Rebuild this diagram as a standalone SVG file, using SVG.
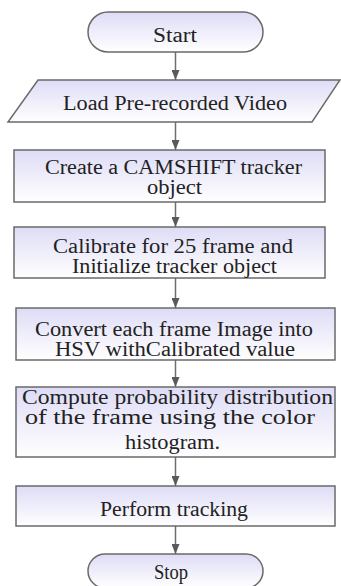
<svg xmlns="http://www.w3.org/2000/svg" width="341" height="586" viewBox="0 0 341 586">
  <defs>
    <linearGradient id="fillGrad" x1="0" y1="0" x2="0" y2="1">
      <stop offset="0" stop-color="#dedcf6"/>
      <stop offset="1" stop-color="#ffffff"/>
    </linearGradient>
    <marker id="arrow" viewBox="0 0 10 8" refX="10" refY="4" markerWidth="10" markerHeight="8" markerUnits="userSpaceOnUse" orient="auto">
      <path d="M0,0 L10,4 L0,8 Z" fill="#5a5a5a"/>
    </marker>
  </defs>
  <style>
    .shape { fill: url(#fillGrad); stroke: #6a6a6a; stroke-width: 1.5; }
    .label { font-family: "Liberation Serif", "Times New Roman", serif; font-size: 20px; fill: #222; }
    .conn { stroke: #6e6e6e; stroke-width: 1.5; fill: none; marker-end: url(#arrow); }
  </style>
  <rect width="341" height="586" fill="#ffffff"/>

  <g id="connectors">
    <line class="conn" x1="175.5" y1="52" x2="175.5" y2="80"/>
    <line class="conn" x1="175.5" y1="122" x2="175.5" y2="150"/>
    <line class="conn" x1="175.5" y1="202" x2="175.5" y2="227"/>
    <line class="conn" x1="175.5" y1="278" x2="175.5" y2="308"/>
    <line class="conn" x1="175.5" y1="360" x2="175.5" y2="387"/>
    <line class="conn" x1="175.5" y1="457" x2="175.5" y2="486"/>
    <line class="conn" x1="175.5" y1="526" x2="175.5" y2="554"/>
  </g>

  <g id="start">
    <rect class="shape" x="88" y="12" width="175" height="40" rx="20" ry="20"/>
    <text class="label" x="175" y="41.5" text-anchor="middle" textLength="44" lengthAdjust="spacingAndGlyphs">Start</text>
  </g>

  <g id="load-video">
    <polygon class="shape" points="38,80 340,80 312,122 8,122"/>
    <text class="label" x="175" y="110" text-anchor="middle" textLength="224" lengthAdjust="spacingAndGlyphs">Load Pre-recorded Video</text>
  </g>

  <g id="create-tracker">
    <rect class="shape" x="14" y="150" width="311" height="52"/>
    <text class="label" x="173.5" y="174" text-anchor="middle" textLength="257" lengthAdjust="spacingAndGlyphs">Create a CAMSHIFT tracker</text>
    <text class="label" x="174.5" y="194" text-anchor="middle" textLength="55" lengthAdjust="spacingAndGlyphs">object</text>
  </g>

  <g id="calibrate">
    <rect class="shape" x="14" y="227" width="311" height="51"/>
    <text class="label" x="173" y="252.5" text-anchor="middle" textLength="240" lengthAdjust="spacingAndGlyphs">Calibrate for 25 frame and</text>
    <text class="label" x="174.5" y="272.5" text-anchor="middle" textLength="205" lengthAdjust="spacingAndGlyphs">Initialize tracker object</text>
  </g>

  <g id="convert-hsv">
    <rect class="shape" x="16" y="308" width="319" height="52"/>
    <text class="label" x="174" y="336" text-anchor="middle" textLength="278" lengthAdjust="spacingAndGlyphs">Convert each frame Image into</text>
    <text class="label" x="175" y="356" text-anchor="middle" textLength="240" lengthAdjust="spacingAndGlyphs">HSV withCalibrated value</text>
  </g>

  <g id="compute-distribution">
    <rect class="shape" x="16" y="387" width="319" height="70"/>
    <text class="label" x="177.5" y="404" text-anchor="middle" textLength="311" lengthAdjust="spacingAndGlyphs">Compute probability distribution</text>
    <text class="label" x="170" y="424" text-anchor="middle" textLength="290" lengthAdjust="spacingAndGlyphs">of the frame using the color</text>
    <text class="label" x="172.5" y="449" text-anchor="middle" textLength="95" lengthAdjust="spacingAndGlyphs">histogram.</text>
  </g>

  <g id="perform-tracking">
    <rect class="shape" x="16" y="486" width="319" height="40"/>
    <text class="label" x="174" y="516" text-anchor="middle" textLength="148" lengthAdjust="spacingAndGlyphs">Perform tracking</text>
  </g>

  <g id="stop">
    <rect class="shape" x="88" y="554" width="175" height="34" rx="17" ry="17"/>
    <text class="label" x="171" y="579" text-anchor="middle" textLength="34" lengthAdjust="spacingAndGlyphs">Stop</text>
  </g>
</svg>
